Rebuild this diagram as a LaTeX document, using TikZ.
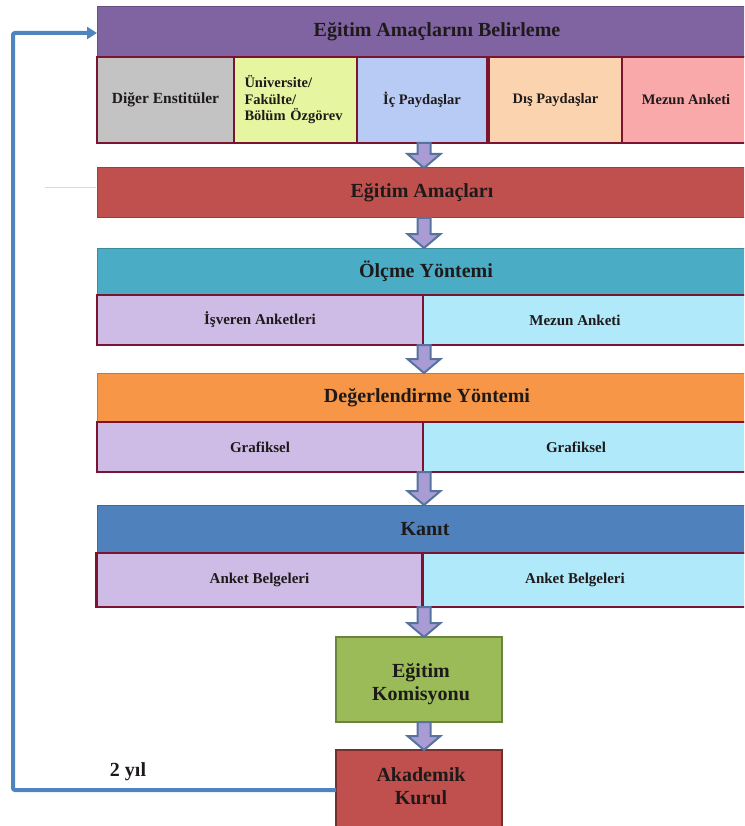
\documentclass[tikz,border=0pt]{standalone}
\usepackage{fontspec}
\setmainfont{Liberation Serif}
\usetikzlibrary{calc,arrows.meta}
\definecolor{cPurple}{HTML}{8064A2}
\definecolor{cRed}{HTML}{C0504D}
\definecolor{cTeal}{HTML}{4BACC6}
\definecolor{cOrange}{HTML}{F79646}
\definecolor{cBlue}{HTML}{4F81BD}
\definecolor{cGreen}{HTML}{9BBB59}
\definecolor{cGray}{HTML}{C3C3C3}
\definecolor{cLime}{HTML}{E6F5A0}
\definecolor{cLblue}{HTML}{B7CBF4}
\definecolor{cPeach}{HTML}{FBD3AF}
\definecolor{cPink}{HTML}{F9A9A9}
\definecolor{cLav}{HTML}{CFBCE6}
\definecolor{cCyan}{HTML}{B0E9FA}
\definecolor{cMaroon}{HTML}{7A1430}
\definecolor{cArrFill}{HTML}{A99BD3}
\definecolor{cArrLine}{HTML}{56739F}
\definecolor{cLoop}{HTML}{4F85BE}
\definecolor{cText}{HTML}{1E1A1A}
\newcommand{\barrow}[2]{%
  \path[blockarrow] let \p1=#1, \p2=#2 in
    (\x1-6.5pt,\y1) -- (\x1+6.5pt,\y1) -- (\x1+6.5pt,\y2+14pt) --
    (\x1+16.5pt,\y2+14pt) -- (\x1,\y2) -- (\x1-16.5pt,\y2+14pt) --
    (\x1-6.5pt,\y2+14pt) -- cycle;}
\begin{document}
\begin{tikzpicture}[x=1pt,y=-1pt,
  base/.style={rectangle, inner sep=0pt, outer sep=0pt, text=cText,
    font=\bfseries},
  hdr/.style={base, draw=#1!80!black, fill=#1, line width=1pt,
    font=\fontsize{20}{24}\selectfont\bfseries},
  cell/.style={base, draw=cMaroon, fill=#1, line width=2.6pt,
    font=\fontsize{14.5}{16.5}\selectfont\bfseries},
  row/.style={base, draw=cMaroon, fill=#1, line width=2.6pt,
    font=\fontsize{15}{18}\selectfont\bfseries},
  txt/.style={base, font=\fontsize{15}{18}\selectfont\bfseries},
  bigtxt/.style={base, align=center, font=\fontsize{20}{23.5}\selectfont\bfseries},
  blockarrow/.style={fill=cArrFill, draw=cArrLine, line width=2pt, line join=miter},
  loopline/.style={draw=cLoop, line width=4pt, rounded corners=2pt,
    -{Triangle[length=10pt,width=12pt]}}
]
\useasboundingbox (0,0) rectangle (744,826);
\clip (0,0) rectangle (744,826);
\coordinate (ax) at (424,0);

% faint line
\coordinate (fa) at (45,188);
\coordinate (fb) at (96,188);
\draw[black!15, line width=1pt] (fa) -- (fb);

% Section 1
\node[hdr=cPurple, minimum width=680, minimum height=50] (h1) at (437,32) {Eğitim Amaçlarını Belirleme};
\node[cell=cGray, minimum width=137, minimum height=86, font=\fontsize{15.5}{18}\selectfont\bfseries] (c1) at (165.5,100) {Diğer Enstitüler};
\node[cell=cLime, minimum width=125, minimum height=86, text width=104, align=left] (c2) at (296.5,100) {Üniversite/\\Fakülte/\\Bölüm Özgörev};
\node[cell=cLblue, minimum width=130, minimum height=86] (c3) at (422,100) {İç Paydaşlar};
\node[cell=cPeach, minimum width=133, minimum height=86] (c4) at (555.5,100) {Dış Paydaşlar};
\node[cell=cPink, minimum width=128, minimum height=86] (c5) at (686,100) {Mezun Anketi};

% Section 2
\node[hdr=cRed, minimum width=650, minimum height=50] (h2) at (422,193) {Eğitim Amaçları};

% Section 3
\node[hdr=cTeal, minimum width=658, minimum height=47] (h3) at (426,271.5) {Ölçme Yöntemi};
\node[row=cLav, minimum width=326, minimum height=50] (l3) at (260,320) {İşveren Anketleri};
\node[row=cCyan, minimum width=330, minimum height=50] (r3) at (588,320) {};
\node[txt] (r3t) at (575,320) {Mezun Anketi};

% Section 4
\node[hdr=cOrange, minimum width=660, minimum height=49] (h4) at (427,397.5) {Değerlendirme Yöntemi};
\node[row=cLav, minimum width=326, minimum height=50] (l4) at (260,447) {Grafiksel};
\node[row=cCyan, minimum width=330, minimum height=50] (r4) at (588,447) {};
\node[txt] (r4t) at (576,447) {Grafiksel};

% Section 5
\node[hdr=cBlue, minimum width=656, minimum height=48] (h5) at (425,529) {Kanıt};
\node[row=cLav, minimum width=326, minimum height=54] (l5) at (259.5,580) {Anket Belgeleri};
\node[row=cCyan, minimum width=330, minimum height=54] (r5) at (588,580) {};
\node[txt] (r5t) at (575,580) {Anket Belgeleri};

% Bottom boxes
\node[base, fill=cGreen, draw=cGreen!70!black, line width=2pt, minimum width=166, minimum height=85] (ek) at (419,679.5) {};
\node[bigtxt] (ekt) at (421,684) {Eğitim\\Komisyonu};
\node[base, fill=cRed, draw=cRed!60!black, line width=2.5pt, minimum width=166, minimum height=110] (ak) at (419,805) {};
\node[bigtxt] (akt) at (421,786) {Akademik\\Kurul};

% block arrows
\barrow{(c3.south -| ax)}{(h2.north -| ax)}
\barrow{(h2.south -| ax)}{(h3.north -| ax)}
\barrow{(l3.south -| ax)}{(h4.north -| ax)}
\barrow{(l4.south -| ax)}{(h5.north -| ax)}
\barrow{(l5.south -| ax)}{(ek.north -| ax)}
\barrow{(ek.south -| ax)}{(ak.north -| ax)}

% feedback loop
\coordinate (lb) at (13,790);
\coordinate (lt) at (13,33);
\draw[loopline] (ak.west |- lb) -- (lb) -- (lt) -- (lt -| h1.west);
\node[base, font=\fontsize{20}{24}\selectfont\bfseries] (yil) at (128,772) {2 yıl};
\end{tikzpicture}
\end{document}
